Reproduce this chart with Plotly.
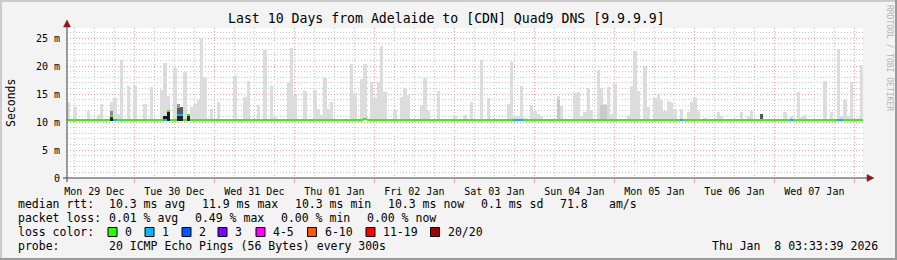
import pandas as pd
import plotly.graph_objects as go

# ---------------- data ----------------
T0 = pd.Timestamp("2025-12-29 00:00:00")   # hour offsets below are relative to this
VIEW_START_H = 3.8
VIEW_END_H = 242.6

# hourly smoke bins: bin index (hour offset) and max rtt in ms
smoke_bin = [4, 6, 10, 13, 14, 17, 18, 19, 20, 22, 24, 27, 29, 32, 33, 34, 36, 37, 38, 39,
             40, 41, 42, 43, 44, 45, 47, 49, 54, 57, 58, 61, 63, 65, 66, 70, 71, 72, 75, 78,
             79, 80, 81, 82, 83, 88, 89, 90, 92, 93, 95, 96, 97, 98, 99, 102, 104, 105, 106, 110,
             111, 112, 115, 119, 120, 123, 125, 128, 130, 133, 136, 137, 138, 139, 140, 141, 143, 144, 145, 146,
             150, 151, 152, 156, 157, 158, 159, 160, 161, 163, 164, 165, 166, 167, 168, 172, 173, 174, 175, 177,
             178, 180, 181, 182, 183, 184, 185, 186, 188, 190, 191, 192, 193, 195, 196, 199, 200, 206, 208, 209,
             212, 214, 219, 221, 223, 224, 225, 231, 233, 235, 236, 237, 238, 239, 241, 242]
smoke_top = [13.5, 12.7, 12.0, 11.3, 13.3, 13.6, 14.2, 11.4, 21.1, 16.5, 16.5, 13.3, 16.3, 15.8, 20.6, 14.7, 19.7, 13.3, 12.7, 19.0,
             11.3, 12.6, 13.3, 13.9, 25.0, 18.0, 12.4, 13.5, 18.2, 14.5, 17.4, 13.1, 22.8, 16.5, 10.9, 17.0, 23.2, 14.8, 15.6, 15.8,
             12.4, 11.3, 17.8, 12.4, 13.6, 10.6, 20.3, 15.1, 17.6, 20.4, 17.2, 14.2, 17.2, 23.5, 15.4, 12.2, 14.5, 16.0, 14.9, 13.0,
             17.9, 12.0, 15.6, 10.6, 11.1, 11.3, 13.5, 21.1, 14.3, 10.6, 13.3, 20.8, 11.1, 11.1, 16.5, 10.8, 13.1, 12.0, 11.5, 11.0,
             10.6, 14.7, 12.9, 15.1, 15.4, 11.1, 11.8, 16.1, 12.2, 19.3, 16.1, 13.3, 16.3, 11.5, 16.7, 11.3, 16.5, 22.6, 15.6, 19.9,
             12.7, 14.2, 14.9, 14.0, 12.0, 13.8, 13.5, 12.4, 12.4, 11.7, 13.5, 14.3, 12.0, 10.8, 10.6, 11.8, 11.1, 11.7, 11.1, 11.9,
             11.4, 10.6, 11.8, 11.1, 15.4, 10.9, 11.3, 17.4, 11.8, 23.1, 11.1, 14.0, 11.0, 17.2, 10.8, 20.1]
SMOKE_BASE = 10.2

# denser smoke layers (darker grey)
dark_bin = [17, 17, 33, 34, 37, 37, 37, 38, 38, 40, 151, 164, 165, 212]
dark_high = [11.9, 11.1, 11.1, 11.9, 13.3, 12.5, 11.2, 12.7, 11.5, 11.2, 14.0, 13.1, 13.1, 11.4]
dark_colors = ["#8c8c8c", "#222222", "#1a1a1a", "#1a1a1a", "#9a9a9a", "#5a5a5a", "#222222",
               "#5a5a5a", "#222222", "#2a2a2a", "#c6c6c6", "#cacaca", "#cacaca", "#555555"]

# median rtt segments (first bin, last bin, value ms, loss class)
med_first = [3, 17, 18, 19, 33, 34, 35, 37, 39, 40, 41, 93, 94, 138, 141, 188, 189, 221, 222, 235, 237]
med_last = [16, 17, 18, 32, 33, 34, 36, 38, 39, 40, 92, 93, 137, 140, 187, 188, 220, 221, 234, 236, 243]
med_value = [10.3, 11.1, 10.3, 10.3, 10.3, 11.9, 10.3, 11.2, 10.3, 11.2, 10.3, 10.55, 10.3, 10.3, 10.3,
             10.3, 10.3, 10.3, 10.3, 10.3, 10.3]
med_loss = [0, 0, 1, 0, 1, 0, 0, 1, 0, 0, 0, 0, 0, 1, 0, 1, 0, 1, 0, 1, 0]

loss_labels = ["0", "1", "2", "3", "4-5", "6-10", "11-19", "20/20"]
loss_colors = ["#26ff00", "#00b8ff", "#0059ff", "#7e00ff", "#ff00ff", "#ff5500", "#ff0000", "#a10000"]

y_tickvals = [0, 5, 10, 15, 20, 25]
y_ticktext = ["0", "5 m", "10 m", "15 m", "20 m", "25 m"]

title = "Last 10 Days from Adelaide to [CDN] Quad9 DNS [9.9.9.9]"
stat_lines = [
    ["median rtt:", "10.3 ms avg", "11.9 ms max", "10.3 ms min", "10.3 ms now", "0.1 ms sd", "71.8", "am/s"],
    ["packet loss:", "0.01 % avg", "0.49 % max", "0.00 % min", "0.00 % now"],
]
loss_title = "loss color:"
probe_label = "probe:"
probe_text = "20 ICMP Echo Pings (56 Bytes) every 300s"
date_text = "Thu Jan  8 03:33:39 2026"
side_text = "RRDTOOL / TOBI OETIKER"

# ---------------- layout helpers ----------------
W, H = 897, 260
PL, PR, PT, PB = 67, 863, 28, 178
FONT = "DejaVu Sans Mono"
HOUR_MS = 3600 * 1000


def px(x):
    return (x - PL) / (PR - PL)


def py(y):
    return (PB - y) / (PB - PT)


def t(h):
    return T0 + pd.Timedelta(hours=h)


BIN_SHIFT = 0.15  # bin centre offset in hours

fig = go.Figure()

# light smoke
fig.add_trace(go.Bar(
    x=[t(k + BIN_SHIFT) for k in smoke_bin],
    y=[v - SMOKE_BASE for v in smoke_top],
    base=SMOKE_BASE,
    width=HOUR_MS,
    marker=dict(color="#dcdcdc", line=dict(width=0)),
    hoverinfo="skip",
))
# dense smoke
fig.add_trace(go.Bar(
    x=[t(k + BIN_SHIFT) for k in dark_bin],
    y=[v - SMOKE_BASE for v in dark_high],
    base=SMOKE_BASE,
    width=HOUR_MS,
    marker=dict(color=dark_colors, line=dict(width=0)),
    hoverinfo="skip",
))
# median line coloured by loss
LINE_T = 0.36
fig.add_trace(go.Bar(
    x=[t(((a - 0.35) + (b + 0.65)) / 2) for a, b in zip(med_first, med_last)],
    y=[LINE_T] * len(med_value),
    base=[v - LINE_T / 2 for v in med_value],
    width=[(b - a + 1) * HOUR_MS for a, b in zip(med_first, med_last)],
    marker=dict(color=[loss_colors[l] for l in med_loss], line=dict(width=0)),
    hoverinfo="skip",
))

MAJOR = "#f4a0a0"
MINOR = "#c8c8c8"
DASH = "1px,2px"

fig.update_layout(
    width=W, height=H,
    margin=dict(l=PL, r=W - PR, t=PT, b=H - PB, pad=0),
    paper_bgcolor="#f3f3f3",
    plot_bgcolor="#ffffff",
    showlegend=False,
    barmode="overlay",
    bargap=0,
    font=dict(family=FONT, color="#000000"),
    xaxis=dict(
        type="date",
        range=[t(VIEW_START_H), t(VIEW_END_H)],
        tick0="2025-12-29", dtick=86400000,
        tickformat="%a %d %b", ticklabelmode="period",
        tickfont=dict(family=FONT, size=10, color="#000000"),
        showgrid=True, gridcolor=MAJOR, griddash=DASH, gridwidth=1,
        ticks="outside", ticklen=4, tickcolor=MAJOR, tickwidth=1,
        minor=dict(tick0="2025-12-29", dtick=6 * HOUR_MS, showgrid=True,
                   gridcolor=MINOR, griddash=DASH, gridwidth=1),
        showline=False, zeroline=False, fixedrange=True,
    ),
    yaxis=dict(
        range=[0, (PB - PT) / 5.6],
        tickmode="array", tickvals=y_tickvals, ticktext=y_ticktext,
        tickfont=dict(family=FONT, size=10, color="#000000"),
        ticklabelstandoff=6,
        showgrid=True, gridcolor=MAJOR, griddash=DASH, gridwidth=1,
        minor=dict(dtick=1, tick0=0, showgrid=True, gridcolor=MINOR, griddash=DASH, gridwidth=1),
        showline=False, zeroline=False, fixedrange=True,
    ),
)

shapes = []
ann = []

# axis lines and arrows
AX = "#404040"
ARROW = "#8b1a1a"
shapes.append(dict(type="line", xref="paper", yref="paper", x0=px(63), x1=px(868), y0=py(178), y1=py(178),
                   line=dict(color=AX, width=1)))
shapes.append(dict(type="line", xref="paper", yref="paper", x0=px(67), x1=px(67), y0=py(182), y1=py(24),
                   line=dict(color=AX, width=1)))
shapes.append(dict(type="path", xref="paper", yref="paper",
                   path=f"M {px(867)},{py(174.5)} L {px(874)},{py(178)} L {px(867)},{py(181.5)} Z",
                   fillcolor=ARROW, line=dict(color=ARROW, width=0.5)))
shapes.append(dict(type="path", xref="paper", yref="paper",
                   path=f"M {px(63.5)},{py(27)} L {px(67)},{py(20)} L {px(70.5)},{py(27)} Z",
                   fillcolor=ARROW, line=dict(color=ARROW, width=0.5)))

# outer frame
shapes.append(dict(type="line", xref="paper", yref="paper", x0=px(0), x1=px(897), y0=py(1), y1=py(1),
                   line=dict(color="#cbcbcb", width=2)))
shapes.append(dict(type="line", xref="paper", yref="paper", x0=px(1), x1=px(1), y0=py(0), y1=py(260),
                   line=dict(color="#cbcbcb", width=2)))
shapes.append(dict(type="line", xref="paper", yref="paper", x0=px(0), x1=px(897), y0=py(259), y1=py(259),
                   line=dict(color="#999999", width=2)))
shapes.append(dict(type="line", xref="paper", yref="paper", x0=px(896), x1=px(896), y0=py(0), y1=py(260),
                   line=dict(color="#999999", width=2)))

# title
ann.append(dict(text=title, xref="paper", yref="paper", x=px(446.5), y=py(19),
                xanchor="center", yanchor="middle", showarrow=False,
                font=dict(family=FONT, size=13.2, color="#000000")))
# y label
ann.append(dict(text="Seconds", xref="paper", yref="paper", x=px(11), y=py(103), textangle=-90,
                xanchor="center", yanchor="middle", showarrow=False,
                font=dict(family=FONT, size=11.5, color="#000000")))
# side text
ann.append(dict(text=side_text, xref="paper", yref="paper", x=px(889), y=py(58), textangle=90,
                xanchor="center", yanchor="middle", showarrow=False,
                font=dict(family=FONT, size=8, color="#b4b4b4")))

LF = dict(family=FONT, size=11.5, color="#000000")
line_y = [204, 218, 232, 246]
stat_x = [
    [16, 107, 200, 293, 386, 479, 558, 607],
    [16, 107, 193, 279, 365],
]
for row, xs, yy in zip(stat_lines, stat_x, line_y):
    for txt, xx in zip(row, xs):
        ann.append(dict(text=txt, xref="paper", yref="paper", x=px(xx), y=py(yy),
                        xanchor="left", yanchor="middle", showarrow=False, font=LF))

# loss colour legend
ann.append(dict(text=loss_title, xref="paper", yref="paper", x=px(16), y=py(232),
                xanchor="left", yanchor="middle", showarrow=False, font=LF))
box_x = [108, 145, 182, 218, 256, 307.5, 366, 430.5]
for lab, col, bx in zip(loss_labels, loss_colors, box_x):
    shapes.append(dict(type="rect", xref="paper", yref="paper", x0=px(bx), x1=px(bx + 9),
                       y0=py(236.5), y1=py(227.5), fillcolor=col, line=dict(color="#000000", width=1)))
    ann.append(dict(text=lab, xref="paper", yref="paper", x=px(bx + 15), y=py(232),
                    xanchor="left", yanchor="middle", showarrow=False, font=LF))

ann.append(dict(text=probe_label, xref="paper", yref="paper", x=px(16), y=py(246),
                xanchor="left", yanchor="middle", showarrow=False, font=LF))
ann.append(dict(text=probe_text, xref="paper", yref="paper", x=px(107), y=py(246),
                xanchor="left", yanchor="middle", showarrow=False, font=LF))
ann.append(dict(text=date_text.replace("  ", "&nbsp; "), xref="paper", yref="paper", x=px(880), y=py(246),
                xanchor="right", yanchor="middle", showarrow=False, font=LF))

fig.update_layout(shapes=shapes, annotations=ann)

fig.write_html("out.html")
